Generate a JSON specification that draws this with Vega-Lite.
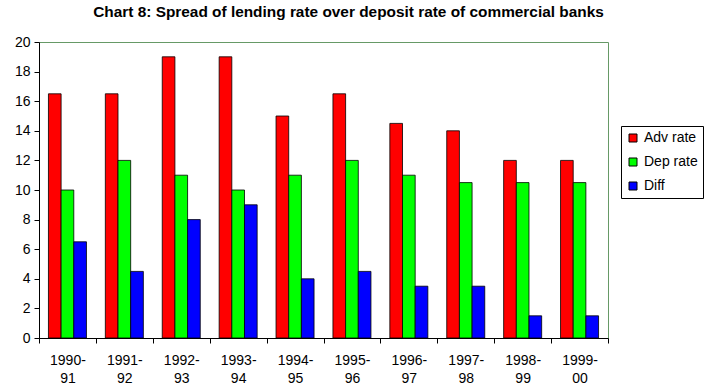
{
  "$schema": "https://vega.github.io/schema/vega-lite/v6.json",
  "width": 569,
  "height": 296,
  "autosize": {"type": "none"},
  "padding": {"left": 39, "top": 42, "right": 96, "bottom": 54},
  "background": "white",
  "title": {
    "text": "Chart 8: Spread of lending rate over deposit rate of commercial banks",
    "font": "Liberation Sans",
    "fontSize": 15.4,
    "fontWeight": "bold",
    "color": "black",
    "anchor": "middle",
    "frame": "group",
    "dx": 25,
    "offset": 15
  },
  "data": {
    "values": [
      {"year": "1990-91", "series": "Adv rate", "value": 16.5},
      {"year": "1990-91", "series": "Dep rate", "value": 10},
      {"year": "1990-91", "series": "Diff", "value": 6.5},
      {"year": "1991-92", "series": "Adv rate", "value": 16.5},
      {"year": "1991-92", "series": "Dep rate", "value": 12},
      {"year": "1991-92", "series": "Diff", "value": 4.5},
      {"year": "1992-93", "series": "Adv rate", "value": 19},
      {"year": "1992-93", "series": "Dep rate", "value": 11},
      {"year": "1992-93", "series": "Diff", "value": 8},
      {"year": "1993-94", "series": "Adv rate", "value": 19},
      {"year": "1993-94", "series": "Dep rate", "value": 10},
      {"year": "1993-94", "series": "Diff", "value": 9},
      {"year": "1994-95", "series": "Adv rate", "value": 15},
      {"year": "1994-95", "series": "Dep rate", "value": 11},
      {"year": "1994-95", "series": "Diff", "value": 4},
      {"year": "1995-96", "series": "Adv rate", "value": 16.5},
      {"year": "1995-96", "series": "Dep rate", "value": 12},
      {"year": "1995-96", "series": "Diff", "value": 4.5},
      {"year": "1996-97", "series": "Adv rate", "value": 14.5},
      {"year": "1996-97", "series": "Dep rate", "value": 11},
      {"year": "1996-97", "series": "Diff", "value": 3.5},
      {"year": "1997-98", "series": "Adv rate", "value": 14},
      {"year": "1997-98", "series": "Dep rate", "value": 10.5},
      {"year": "1997-98", "series": "Diff", "value": 3.5},
      {"year": "1998-99", "series": "Adv rate", "value": 12},
      {"year": "1998-99", "series": "Dep rate", "value": 10.5},
      {"year": "1998-99", "series": "Diff", "value": 1.5},
      {"year": "1999-00", "series": "Adv rate", "value": 12},
      {"year": "1999-00", "series": "Dep rate", "value": 10.5},
      {"year": "1999-00", "series": "Diff", "value": 1.5}
    ]
  },
  "mark": {"type": "bar", "stroke": "black", "strokeWidth": 0.8},
  "encoding": {
    "x": {
      "field": "year",
      "type": "nominal",
      "sort": null,
      "scale": {"paddingInner": 0, "paddingOuter": 0},
      "axis": {
        "title": null,
        "labelAngle": 0,
        "tickBand": "extent",
        "tickSize": 5,
        "labelFontSize": 14,
        "labelLineHeight": 18,
        "labelPadding": 10,
        "labelExpr": "[slice(datum.label,0,5), slice(datum.label,5)]",
        "zindex": 1
      }
    },
    "xOffset": {
      "field": "series",
      "type": "nominal",
      "sort": ["Adv rate", "Dep rate", "Diff"],
      "scale": {"paddingInner": 0, "paddingOuter": 0.745}
    },
    "y": {
      "field": "value",
      "type": "quantitative",
      "scale": {"domain": [0, 20], "nice": false},
      "axis": {
        "title": null,
        "values": [0, 2, 4, 6, 8, 10, 12, 14, 16, 18, 20],
        "tickSize": 5,
        "labelFontSize": 14,
        "labelPadding": 4,
        "zindex": 1
      }
    },
    "color": {
      "field": "series",
      "type": "nominal",
      "sort": ["Adv rate", "Dep rate", "Diff"],
      "scale": {"domain": ["Adv rate", "Dep rate", "Diff"], "range": ["#FF0000", "#00FF00", "#0000FF"]},
      "legend": {
        "title": null,
        "orient": "none",
        "legendX": 582,
        "legendY": 84,
        "fillColor": "white",
        "strokeColor": "black",
        "padding": 5,
        "rowPadding": 10,
        "symbolType": "square",
        "symbolSize": 64,
        "symbolStrokeColor": "black",
        "symbolStrokeWidth": 1,
        "symbolOpacity": 1,
        "labelFontSize": 14,
        "labelFont": "Liberation Sans",
        "labelColor": "black",
        "labelOffset": 4
      }
    }
  },
  "config": {
    "view": {"stroke": "#669966", "strokeWidth": 1},
    "axis": {
      "grid": false,
      "labelFont": "Liberation Sans",
      "labelColor": "black",
      "domainColor": "black",
      "tickColor": "black"
    }
  }
}
